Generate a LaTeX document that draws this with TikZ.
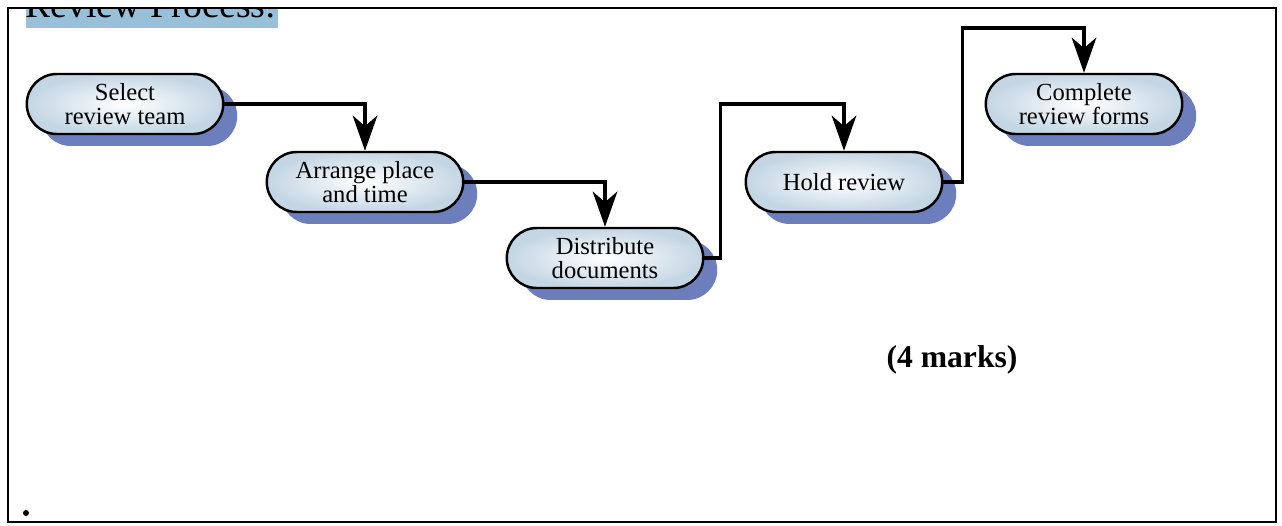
\documentclass[tikz,border=0pt]{standalone}
\usepackage{fontspec}
\setmainfont{Liberation Serif}
\usetikzlibrary{shapes.misc,shadows,arrows.meta}
\definecolor{titleblue}{RGB}{152,192,216}
\definecolor{shadowblue}{RGB}{108,126,188}
\definecolor{pillblue}{RGB}{196,214,228}
\tikzset{
  pill/.style={rounded rectangle, draw, line width=1.4pt, minimum width=4cm,
    minimum height=1.2cm, align=center, inner sep=1pt,
    font=\fontsize{14}{13.5}\selectfont,
    shading=radial, inner color=white, outer color=pillblue,
    drop shadow={shadow xshift=0.28cm, shadow yshift=-0.24cm,
      fill=shadowblue, opacity=1}},
  conn/.style={line width=2.2pt, -{Stealth[length=20pt,width=14pt,inset=6pt]}}
}
\begin{document}
\begin{tikzpicture}[x=0.02cm,y=-0.02cm]
  \useasboundingbox (0,0) rectangle (1282,525);
  % title, cut off by the frame
  \begin{scope}
    \clip (0,9) rectangle (1282,525);
    \fill[titleblue] (26,0) rectangle (278,28);
    \path (25,17) node[anchor=base west, inner sep=0, font=\fontsize{21.5}{24}\selectfont] (title) {Review Process:};
  \end{scope}
  \draw[line width=1.2pt] (8,8) rectangle (1276,522);
  % steps
  \path (125,104) node[pill] (sel) {Select\\review team};
  \path (365,182) node[pill] (arr) {Arrange place\\and time};
  \path (605,258) node[pill] (dist) {Distribute\\documents};
  \path (844,182) node[pill] (hold) {Hold review};
  \path (1084,104) node[pill] (comp) {Complete\\review forms};
  \coordinate (top) at (1084,28);
  % connectors
  \draw[conn] (sel.east) -| (arr.north);
  \draw[conn] (arr.east) -| (dist.north);
  \draw[conn] (dist.east) -- ++(16,0) |- (hold.north |- sel.east) -- (hold.north);
  \draw[conn] (hold.east) -- ++(19,0) |- (top) -- (comp.north);
  \path (952,360) node[font=\fontsize{18}{20}\selectfont\bfseries] (marks) {(4 marks)};
  \fill (26,513) circle (3);
\end{tikzpicture}
\end{document}
